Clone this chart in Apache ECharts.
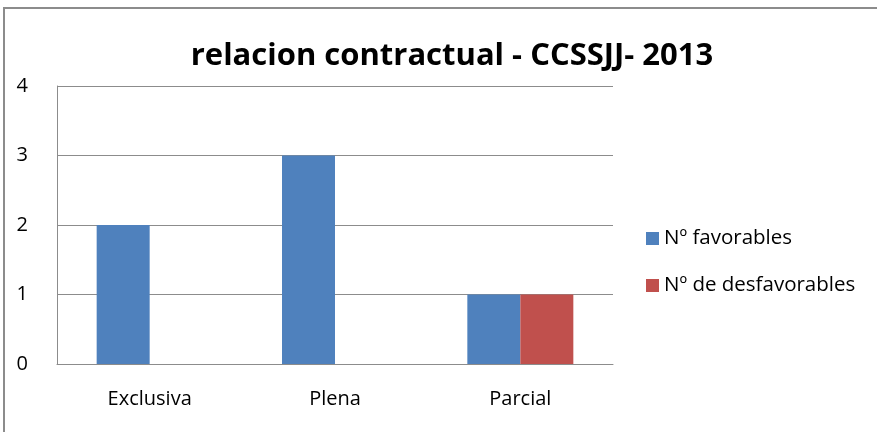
<!DOCTYPE html>
<html>
<head>
<meta charset="utf-8">
<script src="https://cdn.jsdelivr.net/npm/echarts@6/dist/echarts.min.js"></script>
<style>
  html, body { margin: 0; padding: 0; background: #fff; }
  #chart { width: 877px; height: 432px; }
</style>
</head>
<body>
<div id="chart"></div>
<script>
const categories = ['Exclusiva', 'Plena', 'Parcial']
const favorables = [2, 3, 1]
const desfavorables = [0, 0, 1]
const seriesNames = ['Nº favorables', 'Nº de desfavorables']
const fontFamily = '"Open Sans", sans-serif'

const chart = echarts.init(document.getElementById('chart'), null, { renderer: 'canvas' })

const option = {
  animation: false,
  backgroundColor: '#fff',
  title: {
    text: 'relacion contractual - CCSSJJ- 2013',
    left: 447,
    top: 36,
    textAlign: 'center',
    textStyle: { fontFamily, fontSize: 31, fontWeight: 'bold', color: '#000' }
  },
  graphic: [{
    type: 'rect',
    shape: { x: 4, y: 8, width: 900, height: 500 },
    style: { fill: 'none', stroke: '#8c8c8c', lineWidth: 2 },
    silent: true
  }],
  legend: {
    orient: 'vertical',
    left: 641,
    top: 223,
    itemWidth: 13,
    itemHeight: 13,
    itemGap: 26,
    icon: 'rect',
    textStyle: { fontFamily, fontSize: 20.5, color: '#000' },
    data: seriesNames
  },
  grid: { left: 57, right: 264, top: 86, bottom: 68 },
  xAxis: {
    type: 'category',
    data: categories,
    axisLine: { lineStyle: { color: '#8c8c8c', width: 1 } },
    axisTick: { show: false },
    axisLabel: { fontFamily, fontSize: 20, color: '#000', margin: 25 }
  },
  yAxis: {
    type: 'value',
    min: 0,
    max: 4,
    interval: 1,
    axisLine: { show: true, lineStyle: { color: '#8c8c8c', width: 1 } },
    axisTick: { show: false },
    splitLine: { lineStyle: { color: '#8c8c8c', width: 1 } },
    axisLabel: { fontFamily, fontSize: 20, color: '#000', margin: 29 }
  },
  series: [
    {
      name: seriesNames[0],
      type: 'bar',
      data: favorables,
      barWidth: 53,
      barGap: '0%',
      itemStyle: { color: '#4F81BD' }
    },
    {
      name: seriesNames[1],
      type: 'bar',
      data: desfavorables,
      barWidth: 53,
      barGap: '0%',
      itemStyle: { color: '#C0504D' }
    }
  ]
}

chart.setOption(option)
</script>
</body>
</html>
